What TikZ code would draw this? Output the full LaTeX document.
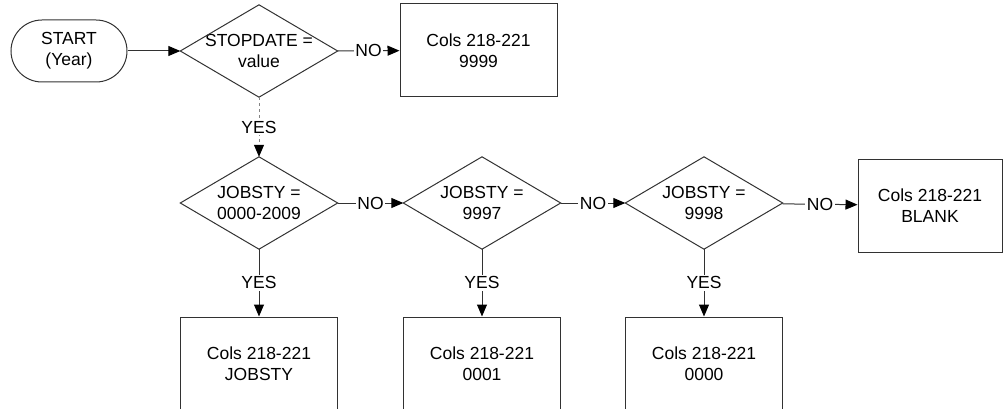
\documentclass[tikz,border=0pt]{standalone}
\usepackage{fontspec}
\setmainfont{Liberation Sans}
\usetikzlibrary{arrows.meta}
\definecolor{linec}{RGB}{50,50,50}
\begin{document}
\begin{tikzpicture}[x=1pt,y=-1pt,
  every node/.style={font=\fontsize{17.5}{21}\selectfont, align=center},
  term/.style={draw=linec, line width=1pt, rectangle, rounded corners=31pt, minimum width=116pt, minimum height=62pt, inner sep=0pt},
  dec/.style={rectangle, minimum width=157pt, minimum height=92pt, inner sep=0pt},
  decline/.style={draw=linec, line width=1pt, line join=miter},
  outbox/.style={draw=linec, line width=1pt, rectangle, minimum width=157pt, minimum height=93pt, inner sep=0pt},
  conn/.style={draw=linec, line width=1pt, -{Triangle[length=12pt,width=10pt,color=black]}},
  dconn/.style={conn, draw=linec!60, dash pattern=on 3pt off 3pt},
  lbl/.style={fill=white, inner sep=1.5pt}
]
\clip (0,0) rectangle (1003,409);
\node[term] (start) at (69,51) {START\\(Year)};
\node[dec] (d1) at (259,51) {STOPDATE =\\value};
\node[outbox] (b9999) at (478.5,50.5) {Cols 218-221\\9999};
\node[dec] (d2) at (259,203) {JOBSTY =\\0000-2009};
\node[dec] (d3) at (482,203) {JOBSTY =\\9997};
\node[dec] (d4) at (704,203) {JOBSTY =\\9998};
\node[outbox, minimum width=144pt] (bblank) at (930,205.5) {Cols 218-221\\BLANK};
\node[outbox] (b1) at (259,363.5) {Cols 218-221\\JOBSTY};
\node[outbox] (b2) at (482,363.5) {Cols 218-221\\0001};
\node[outbox] (b3) at (704,363.5) {Cols 218-221\\0000};

\foreach \d in {d1,d2,d3,d4}
  \draw[decline] (\d.west) -- (\d.north) -- (\d.east) -- (\d.south) -- cycle;

\draw[conn] (start) -- (d1);
\draw[conn] (d1) -- node[lbl]{NO} (b9999);
\draw[dconn] (d1) -- node[lbl]{YES} (d2);
\draw[conn] (d2) -- node[lbl]{NO} (d3);
\draw[conn] (d3) -- node[lbl]{NO} (d4);
\draw[conn] (d4) -- node[lbl]{NO} (bblank);
\draw[conn] (d2) -- node[lbl]{YES} (b1);
\draw[conn] (d3) -- node[lbl]{YES} (b2);
\draw[conn] (d4) -- node[lbl]{YES} (b3);
\end{tikzpicture}
\end{document}
